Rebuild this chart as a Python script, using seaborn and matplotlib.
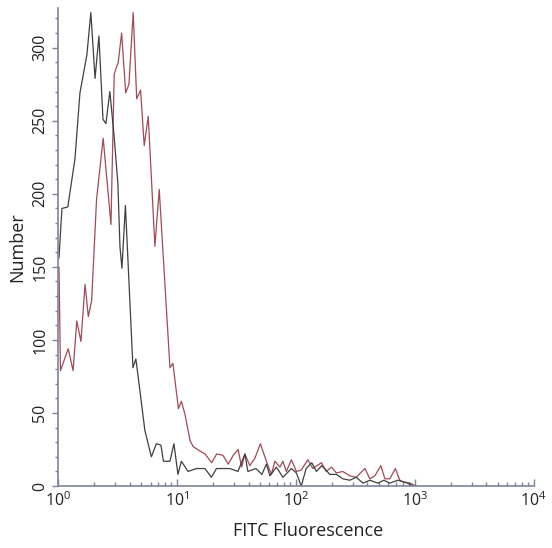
import numpy as np
import pandas as pd
import matplotlib
matplotlib.use("Agg")
import matplotlib.pyplot as plt
import seaborn as sns
from matplotlib.ticker import LogLocator, MultipleLocator, NullFormatter

# ==========================================
# DATA
# ==========================================
black_fitc = [1.02, 1.08, 1.21, 1.39, 1.53, 1.75, 1.89, 2.05, 2.21, 2.39,
              2.53, 2.73, 2.96, 3.19, 3.32, 3.45, 3.69, 4.27, 4.52, 4.89,
              5.38, 6.10, 6.72, 7.34, 7.70, 8.74, 9.44, 10.2, 10.9, 12.4,
              14.6, 17.2, 19.5, 21.5, 27.9, 32.6, 37.3, 39.5, 46.1, 51.8,
              56.5, 60.5, 68.6, 77.8, 91.7, 101, 111, 122, 136, 149,
              165, 193, 219, 248, 284, 322, 366, 419, 489, 549,
              617, 720, 793, 873, 962]
black_count = [156, 190, 191, 224, 269, 295, 324, 279, 308, 251,
               248, 270, 240, 207, 164, 149, 192, 81, 87, 65,
               38, 20, 29, 28, 17, 17, 29, 8, 17, 10,
               12, 12, 6, 12, 12, 10, 22, 10, 12, 8,
               15, 7, 13, 6, 12, 9, 0, 12, 16, 10,
               14, 8, 8, 5, 4, 6, 2, 4, 2, 4,
               2, 4, 3, 2, 0]

red_fitc = [1.02, 1.05, 1.22, 1.34, 1.44, 1.56, 1.69, 1.80, 1.92, 2.11,
            2.40, 2.79, 2.97, 3.21, 3.43, 3.71, 3.95, 4.29, 4.59, 4.95,
            5.31, 5.74, 6.53, 7.10, 8.74, 9.25, 10.3, 10.9, 11.7, 12.9,
            13.7, 15.6, 17.2, 19.6, 21.6, 24.4, 27.0, 29.7, 32.7, 35.0,
            37.3, 41.0, 45.2, 50.3, 56.5, 62.2, 66.6, 73.4, 77.8, 83.2,
            91.7, 101, 111, 126, 139, 164, 180, 199, 219, 248,
            284, 322, 380, 419, 461, 518, 560, 617, 686, 748,
            793, 908, 1030]
red_count = [150, 79, 94, 79, 113, 99, 138, 116, 127, 196,
             238, 179, 282, 290, 310, 269, 275, 324, 265, 271,
             233, 253, 164, 203, 81, 84, 53, 58, 49, 31,
             27, 24, 22, 16, 22, 21, 15, 21, 25, 13,
             22, 14, 19, 29, 17, 8, 17, 13, 17, 10,
             18, 10, 11, 18, 12, 16, 10, 13, 9, 10,
             7, 6, 12, 5, 7, 14, 5, 5, 12, 4,
             3, 2, 0]

BLACK = '#404040'
RED = '#a24a57'
AXIS = '#7e849c'

sns.set_style('white')
plt.rcParams['font.family'] = ['Open Sans', 'DejaVu Sans']
plt.rcParams['mathtext.default'] = 'regular'

fig = plt.figure(figsize=(5.52, 5.48), dpi=100)
ax = fig.add_axes([0.105, 0.113, 0.862, 0.872])

df_black = pd.DataFrame({'fitc': black_fitc, 'count': black_count})
df_red = pd.DataFrame({'fitc': red_fitc, 'count': red_count})

sns.lineplot(data=df_red, x='fitc', y='count', color=RED, linewidth=0.9,
             ax=ax, estimator=None, sort=False)
sns.lineplot(data=df_black, x='fitc', y='count', color=BLACK, linewidth=0.9,
             ax=ax, estimator=None, sort=False)

ax.set_xscale('log')
ax.set_xlim(1, 1e4)
ax.set_ylim(0, 327)

ax.xaxis.set_major_locator(LogLocator(base=10, numticks=10))
ax.xaxis.set_minor_locator(LogLocator(base=10, subs=np.arange(2, 10), numticks=20))
ax.xaxis.set_minor_formatter(NullFormatter())
ax.yaxis.set_major_locator(MultipleLocator(50))
ax.yaxis.set_minor_locator(MultipleLocator(10))

for side in ['top', 'right']:
    ax.spines[side].set_visible(False)
for side in ['left', 'bottom']:
    ax.spines[side].set_color(AXIS)
    ax.spines[side].set_linewidth(1.2)

# seaborn's white style hides the ticks, switch them back on
ax.tick_params(bottom=True, left=True, which='both')
ax.tick_params(axis='x', which='major', direction='in', length=5, width=1,
               color=AXIS, labelsize=11.5, labelcolor='#222222', pad=4)
ax.tick_params(axis='x', which='minor', direction='in', length=3, width=1,
               color=AXIS)
ax.tick_params(axis='y', which='major', direction='out', length=4, width=1,
               color=AXIS, labelsize=11.5, labelcolor='#222222', pad=3)
ax.tick_params(axis='y', which='minor', direction='out', length=2.5, width=1,
               color=AXIS)
for lbl in ax.get_yticklabels():
    lbl.set_rotation(90)
    lbl.set_va('center')

ax.set_xlabel('FITC Fluorescence', fontsize=13, color='#222222')
ax.set_ylabel('Number', fontsize=13, color='#222222', labelpad=4)
ax.xaxis.set_label_coords(0.525, -0.075)

fig.savefig('out.png', dpi=100)
